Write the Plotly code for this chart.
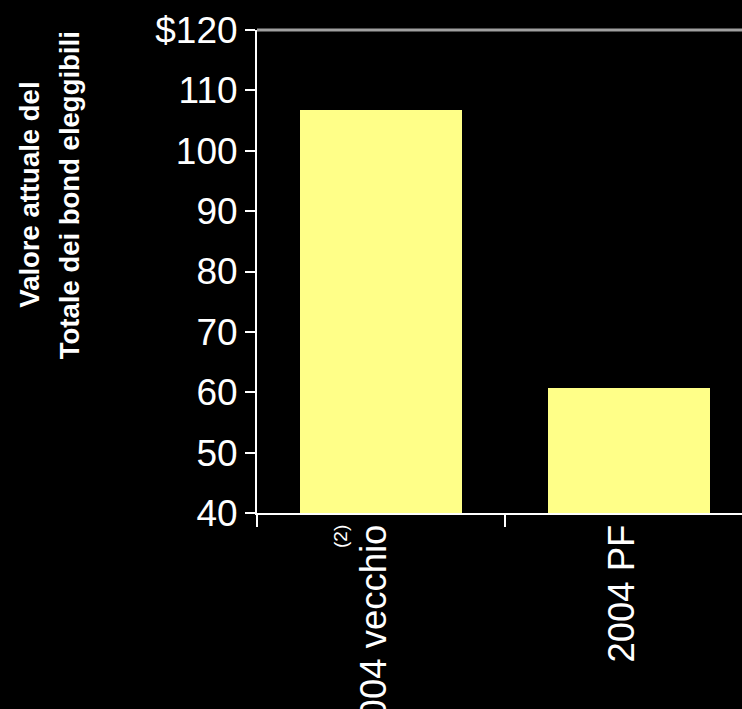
import plotly.graph_objects as go

categories = ["2004 vecchio", "2004 PF"]
category_note = "(2)"
values = [106.7, 60.7]
y_tickvals = [40, 50, 60, 70, 80, 90, 100, 110, 120]
y_ticktext = ["40", "50", "60", "70", "80", "90", "100", "110", "$120"]
y_title_lines = ["Valore attuale del", "Totale dei bond eleggibili"]

FONT = "Arial, Liberation Sans, sans-serif"

fig = go.Figure()
fig.add_trace(go.Bar(
    x=categories, y=values, width=0.653,
    marker=dict(color="#FFFF88", line=dict(width=0)),
))

fig.update_layout(
    width=742, height=709,
    margin=dict(l=257, r=0, t=30, b=196, autoexpand=False),
    paper_bgcolor="black", plot_bgcolor="black",
    showlegend=False,
    font=dict(family=FONT, color="white", size=37),
    bargap=0,
)
fig.update_xaxes(
    type="category", range=[-0.5, 1.456], automargin=False,
    tickangle=-90,
    tickson="boundaries", ticks="outside", ticklen=12, tickwidth=2, tickcolor="white",
    ticklabelstandoff=-5, ticklabelshift=-7,
    showline=True, linecolor="white", linewidth=2,
    showgrid=False, zeroline=False,
    tickfont=dict(family=FONT, size=36.5, color="white"),
)
fig.update_yaxes(
    range=[40, 120], automargin=False,
    tickmode="array", tickvals=y_tickvals, ticktext=y_ticktext,
    ticks="outside", ticklen=10, tickwidth=2, tickcolor="white",
    showline=True, linecolor="white", linewidth=2,
    showgrid=False, zeroline=False,
    tickfont=dict(family=FONT, size=37, color="white"),
)
fig.add_shape(type="line", xref="paper", yref="paper", x0=0, x1=1, y0=1, y1=1,
              line=dict(color="#a0a0a0", width=3))
fig.add_annotation(
    text=category_note, textangle=-90,
    xref="x", yref="paper", x=categories[0], y=-0.0476, xshift=-40,
    xanchor="center", yanchor="middle", showarrow=False,
    font=dict(family=FONT, size=19, color="white"),
)
for line_text, shift in zip(y_title_lines, [-227.5, -188]):
    fig.add_annotation(
        text="<b>" + line_text + "</b>", textangle=-90,
        xref="paper", yref="paper", x=0, y=0.658, xshift=shift,
        xanchor="center", yanchor="middle", showarrow=False,
        font=dict(family=FONT, size=27.5, color="white"),
    )
fig.write_html("out.html")
